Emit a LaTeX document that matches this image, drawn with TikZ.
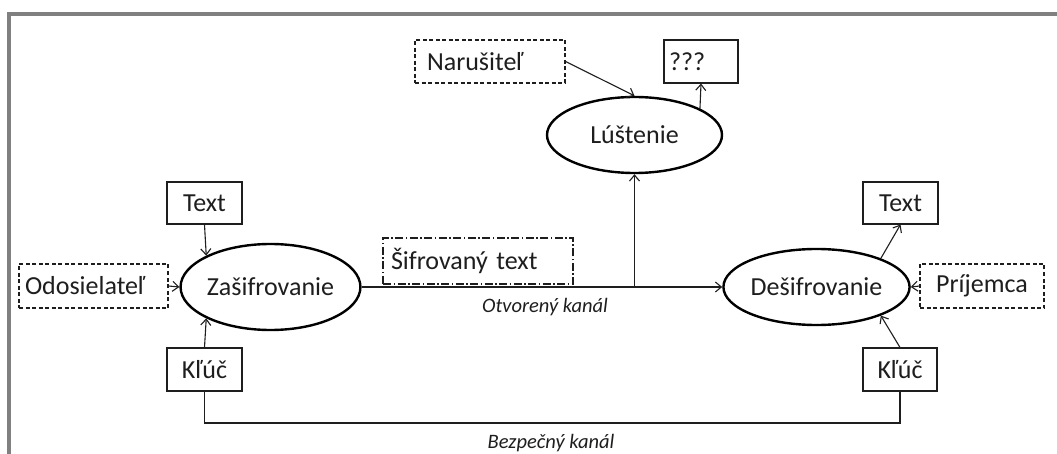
\documentclass[tikz,border=0pt]{standalone}
\usepackage{fontspec}
\setmainfont{Carlito}
\usetikzlibrary{shapes.geometric,arrows.meta}
\definecolor{framegray}{RGB}{128,128,128}
\definecolor{ink}{RGB}{30,30,30}
\begin{document}
\begin{tikzpicture}[x=1pt,y=-1pt,
  lbl/.style={font=\fontsize{26}{31}\selectfont, text=ink},
  box/.style={lbl, draw=ink, line width=1.1pt, rectangle, minimum height=43pt, inner ysep=0pt},
  dbox/.style={box, dash pattern=on 4pt off 2.5pt},
  ddbox/.style={box, dash pattern=on 8pt off 2.5pt on 1.5pt off 2.5pt},
  proc/.style={lbl, draw=black, line width=2.4pt, ellipse, inner sep=0pt},
  conn/.style={draw=ink, line width=1.1pt},
  arr/.style={conn, -{Straight Barb[length=6pt,width=10pt]}},
  chan/.style={font=\fontsize{20.5}{24}\selectfont\itshape, text=ink}
]
% page area and frame
\useasboundingbox (0,0) rectangle (1057,454);
\fill[white] (0,0) rectangle (1057,454);
\draw[framegray, line width=4pt] (1057,14) -- (9,14) -- (9,454);

% processes
\node[proc, minimum width=175pt, minimum height=86pt] (zas) at (270.5,287) {Zašifrovanie};
\node[proc, minimum width=173pt, minimum height=76pt] (des) at (816.5,287) {Dešifrovanie};
\node[proc, minimum width=175pt, minimum height=76pt] (lus) at (634.5,135) {Lúštenie};

% participants and data
\node[dbox, minimum width=150pt, text width=126pt, inner xsep=12pt, align=left] (nar) at (490,61.5) {Narušiteľ};
\node[box, minimum width=74pt, text width=64pt, inner xsep=5pt, align=left] (q) at (701,61.5) {???};
\node[box, minimum width=75pt, minimum height=42pt] (txtL) at (204.5,203) {Text};
\node[box, minimum width=75pt, minimum height=42pt] (txtR) at (900.5,203) {Text};
\node[dbox, minimum width=149pt, minimum height=44pt, text width=137pt, inner xsep=6pt, align=left] (odo) at (93.5,286) {Odosielateľ};
\node[dbox, minimum width=124pt, minimum height=44pt] (prij) at (982,286) {Príjemca};
\node[box, minimum width=75pt] (keyL) at (204.5,369.5) {Kľúč};
\node[box, minimum width=74pt] (keyR) at (900,369.5) {Kľúč};
\node[ddbox, minimum width=190pt, minimum height=46pt, text width=174pt, inner xsep=8pt, align=left] (sif) at (478,261) {Šifrovaný text};

% channel helpers
\coordinate (tap) at (634.5,287);
\coordinate (sec) at (551,423);

% connectors
\draw[arr] (zas.east) -- (des.west);
\draw[arr] (tap) -- (lus.south);
\draw[arr] (nar.east) -- (lus.north);
\draw[arr] (lus.22) -- (q.south);
\draw[arr] (txtL.south) -- (zas.154);
\draw[arr] (keyL.north) -- (zas.206);
\draw[arr] (odo.east) -- (zas.west);
\draw[arr] (prij.west) -- (des.east);
\draw[arr] (des.24) -- (txtR.south);
\draw[arr] (keyR.north) -- (des.-24);
\draw[conn] (keyL.south) |- (sec) -| (keyR.south);

% channel labels
\node[chan] (open) at (545,307) {Otvorený kanál};
\node[chan] (safe) at (551,443) {Bezpečný kanál};
\end{tikzpicture}
\end{document}
